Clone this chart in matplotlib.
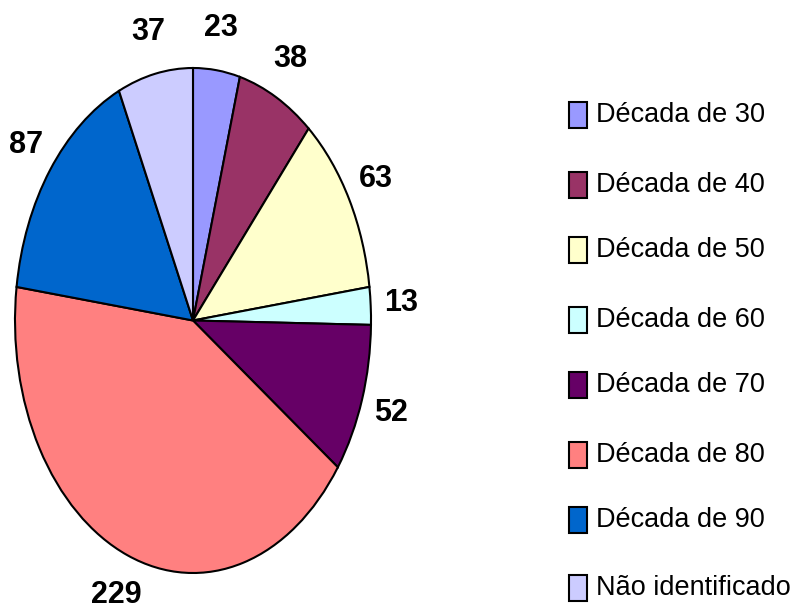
import matplotlib
matplotlib.use("Agg")
import matplotlib.pyplot as plt
from matplotlib.patches import Rectangle

categories = ["Década de 30", "Década de 40", "Década de 50", "Década de 60",
              "Década de 70", "Década de 80", "Década de 90", "Não identificado"]
values = [23, 38, 63, 13, 52, 229, 87, 37]
colors = ["#9999FF", "#993366", "#FFFFCC", "#CCFFFF",
          "#660066", "#FF8080", "#0066CC", "#CCCCFF"]

FONT = ["Liberation Sans", "DejaVu Sans"]
plt.rcParams["font.family"] = FONT

W, H = 796, 609
fig = plt.figure(figsize=(W / 100, H / 100), dpi=100)
fig.patch.set_facecolor("white")

# Elliptical pie: axes box spans the ellipse bounds
left, right, top, bottom = 15, 371, 68, 573
ax = fig.add_axes([left / W, (H - bottom) / H, (right - left) / W, (bottom - top) / H])
wedges, texts = ax.pie(values, colors=colors, startangle=90, counterclock=False,
                       labels=[str(v) for v in values], labeldistance=1.17,
                       wedgeprops=dict(edgecolor="black", linewidth=1.5),
                       textprops=dict(fontsize=22, fontweight="bold"))
for t in texts:
    t.set_ha("center")
    t.set_va("center")
ax.set_aspect("auto")
ax.set_xlim(-1, 1)
ax.set_ylim(-1, 1)
ax.axis("off")

# Legend
ys = [115, 185, 250, 320, 385, 455, 520, 588]
for cat, col, y in zip(categories, colors, ys):
    fig.patches.append(Rectangle((569 / W, (H - y - 13) / H), 18 / W, 26 / H,
                                 transform=fig.transFigure, facecolor=col,
                                 edgecolor="black", linewidth=1.5))
    fig.text(596 / W, (H - y) / H, cat, fontsize=19.5, va="center", ha="left")

fig.savefig("out.png", dpi=100)
